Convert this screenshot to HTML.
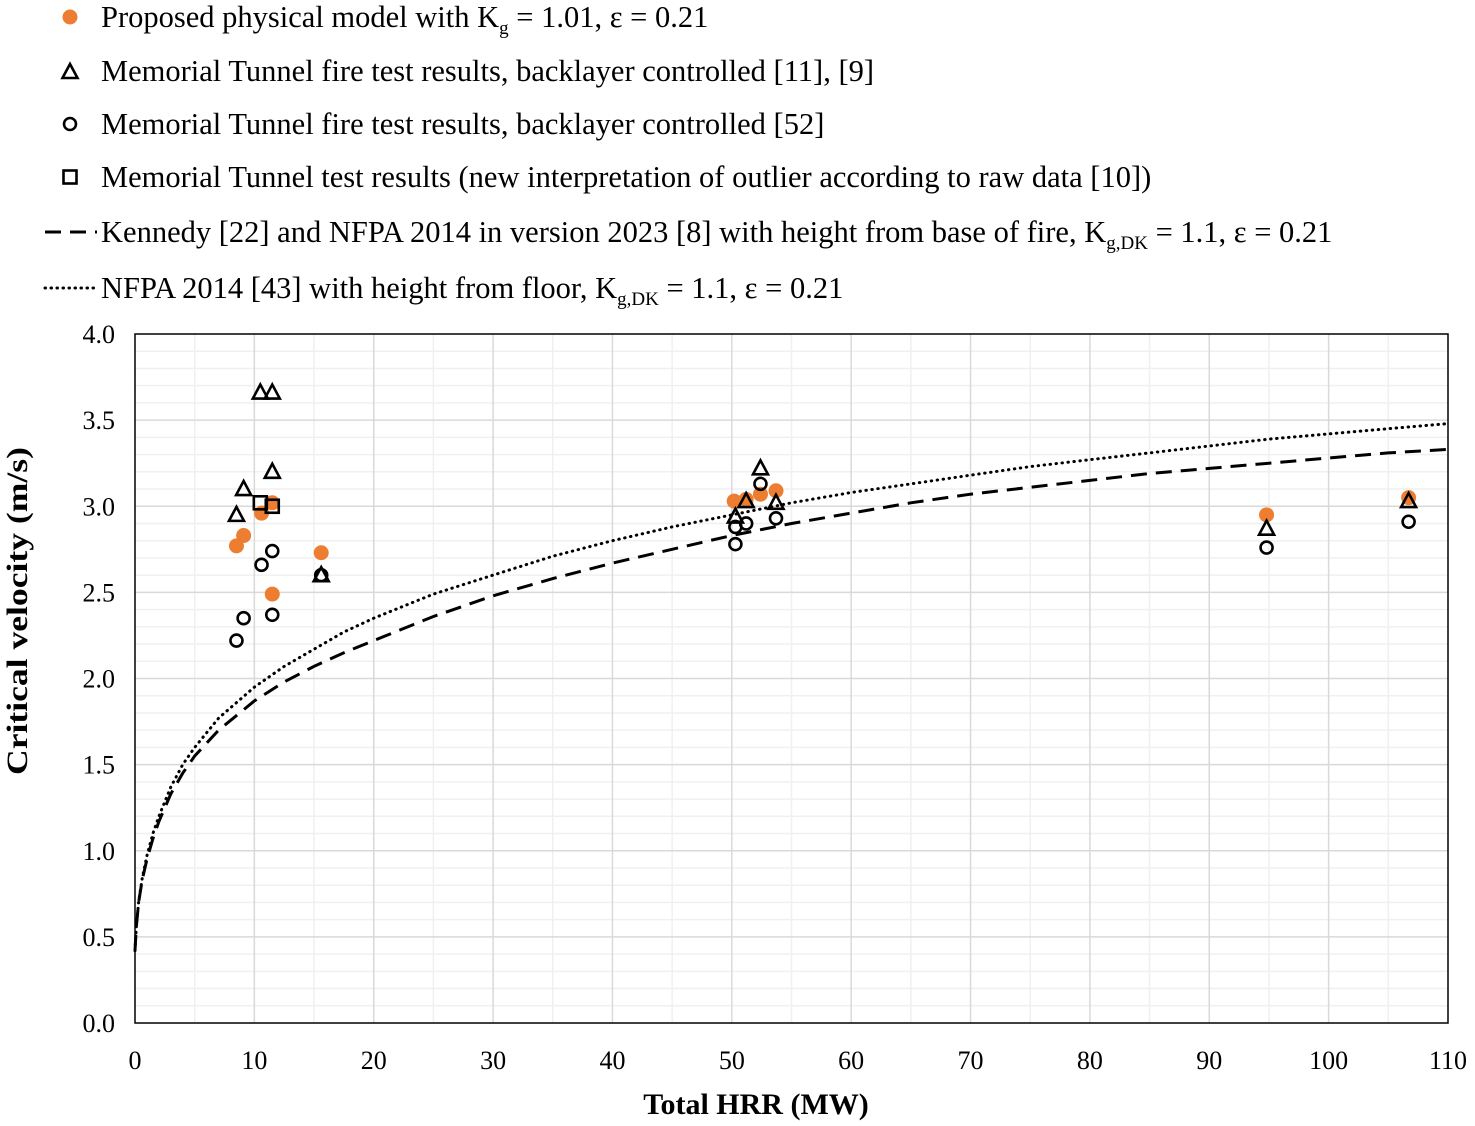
<!DOCTYPE html>
<html><head><meta charset="utf-8"><style>
body{margin:0;background:#fff}
svg{font-family:"Liberation Serif",serif;display:block}
</style></head><body>
<svg id="c" width="1475" height="1126"></svg>
<script>
const orangeX=[8.5,9.1,10.6,11.5,11.5,15.6,50.2,51.2,52.4,53.7,94.8,106.7];
const orangeY=[2.77,2.83,2.96,3.02,2.49,2.73,3.03,3.04,3.07,3.09,2.95,3.05];
const triX=[10.5,11.5,11.5,9.1,8.5,15.6,50.3,51.2,52.4,53.7,94.8,106.7];
const triY=[3.66,3.66,3.2,3.1,2.95,2.6,2.94,3.03,3.22,3.02,2.87,3.03];
const circX=[8.5,9.1,10.6,11.5,11.5,15.6,50.3,50.3,51.2,52.4,53.7,94.8,106.7];
const circY=[2.22,2.35,2.66,2.74,2.37,2.6,2.78,2.88,2.9,3.13,2.93,2.76,2.91];
const sqX=[10.5,11.5];
const sqY=[3.02,3.0];
const dashQ=[0,0.1,0.3,0.6,1,1.5,2,3,4,5,7,10,12.5,15,17.5,20,25,30,35,40,45,50,55,60,65,70,75,80,85,90,95,100,105,110];
const dashV=[0.42,0.55,0.7,0.83,0.95,1.07,1.17,1.33,1.45,1.55,1.7,1.87,1.98,2.07,2.15,2.22,2.36,2.48,2.58,2.67,2.75,2.83,2.9,2.96,3.02,3.07,3.11,3.15,3.19,3.22,3.25,3.28,3.31,3.33];
const dotQ=[0,0.1,0.3,0.6,1,1.5,2,3,4,5,7,10,12.5,15,17.5,20,25,30,35,40,45,50,55,60,65,70,75,80,85,90,95,100,105,110];
const dotV=[0.42,0.55,0.7,0.84,0.97,1.1,1.2,1.37,1.5,1.6,1.77,1.95,2.07,2.17,2.27,2.35,2.49,2.6,2.71,2.8,2.88,2.95,3.02,3.08,3.13,3.18,3.23,3.27,3.31,3.35,3.39,3.42,3.45,3.48];
const xTicks=[0,10,20,30,40,50,60,70,80,90,100,110];
const yTicks=[0,0.5,1,1.5,2,2.5,3,3.5,4];

const NS="http://www.w3.org/2000/svg",svg=document.getElementById('c');
const X0=135,X1=1448,Y0=1023,Y1=334;
const sx=v=>X0+(X1-X0)*v/110, sy=v=>Y0-(Y0-Y1)*v/4;
function mk(t,a,p){const e=document.createElementNS(NS,t);for(const k in a)e.setAttribute(k,a[k]);(p||svg).appendChild(e);return e;}
function tx(x,y,s,a,p){const e=mk('text',Object.assign({x,y},a),p);e.innerHTML=s;return e;}
const grid=mk('g',{});


for(let i=1;i<40;i++){if(i%5)mk('line',{x1:X0,x2:X1,y1:sy(i/10),y2:sy(i/10),stroke:'#f0f0f0','stroke-width':1.5},grid);}
for(let i=1;i<22;i++){if(i%2)mk('line',{x1:sx(i*5),x2:sx(i*5),y1:Y0,y2:Y1,stroke:'#f0f0f0','stroke-width':1.5},grid);}
for(let i=1;i<8;i++)mk('line',{x1:X0,x2:X1,y1:sy(i/2),y2:sy(i/2),stroke:'#d9d9d9','stroke-width':1.5},grid);
for(let i=1;i<11;i++)mk('line',{x1:sx(i*10),x2:sx(i*10),y1:Y0,y2:Y1,stroke:'#d9d9d9','stroke-width':1.5},grid);
const frame=mk('rect',{x:X0,y:Y1,width:X1-X0,height:Y0-Y1,fill:'none',stroke:'#000','stroke-width':1.5});


xTicks.forEach(v=>{const t=tx(sx(v),1069,v,{'font-size':26,'text-anchor':'middle'});

});
yTicks.forEach(v=>{const t=tx(115,sy(v)+9,v.toFixed(1),{'font-size':26,'text-anchor':'end'});

});
const xl=tx(756,1114,'Total HRR (MW)',{'font-size':30,'font-weight':'bold','text-anchor':'middle'});


const yl=tx(-164,0,'Critical velocity (m/s)',{'font-size':30,'font-weight':'bold',textLength:328,lengthAdjust:'spacingAndGlyphs',transform:'translate(27,611) rotate(-90)'});


function path(q,v){return q.map((a,i)=>(i?'L':'M')+sx(a).toFixed(1)+','+sy(v[i]).toFixed(1)).join('');}
const dl=mk('path',{d:path(dashQ,dashV),fill:'none',stroke:'#000','stroke-width':3,'stroke-dasharray':'16,9'});


const ol=mk('path',{d:path(dotQ,dotV),fill:'none',stroke:'#000','stroke-width':3,'stroke-dasharray':'0.5,5.5','stroke-linecap':'round'});


function tri(cx,cy,p){return mk('path',{d:`M${cx},${cy-8}L${cx+7.5},${cy+6}L${cx-7.5},${cy+6}Z`,fill:'none',stroke:'#000','stroke-width':2.6},p);}
function circ(cx,cy,p){return mk('circle',{cx,cy,r:6,fill:'none',stroke:'#000','stroke-width':2.6},p);}
function sq(cx,cy,p){return mk('rect',{x:cx-6.5,y:cy-6.5,width:13,height:13,fill:'none',stroke:'#000','stroke-width':2.6},p);}
function dot(cx,cy,p){return mk('circle',{cx,cy,r:7.5,fill:'#ed7d31'},p);}
orangeX.forEach((x,i)=>{const e=dot(sx(x),sy(orangeY[i]));

});
triX.forEach((x,i)=>{const e=tri(sx(x),sy(triY[i]));

});
circX.forEach((x,i)=>{const e=circ(sx(x),sy(circY[i]));

});
sqX.forEach((x,i)=>{const e=sq(sx(x),sy(sqY[i]));

});
const L=[
 [17,'dot','Proposed physical model with K<tspan font-size="19" dy="7">g</tspan><tspan dy="-7"> = 1.01, ε = 0.21</tspan>'],
 [71,'tri','Memorial Tunnel fire test results, backlayer controlled [11], [9]'],
 [124,'circ','Memorial Tunnel fire test results, backlayer controlled [52]'],
 [177,'sq','Memorial Tunnel test results (new interpretation of outlier according to raw data [10])'],
 [232,'dash','Kennedy [22] and NFPA 2014 in version 2023 [8] with height from base of fire, K<tspan font-size="19" dy="7">g,DK</tspan><tspan dy="-7"> = 1.1, ε = 0.21</tspan>'],
 [288,'dotl','NFPA 2014 [43] with height from floor, K<tspan font-size="19" dy="7">g,DK</tspan><tspan dy="-7"> = 1.1, ε = 0.21</tspan>']];
L.forEach(r=>{const g=mk('g',{});


const y=r[0];
if(r[1]=='dot')dot(70,y,g);else if(r[1]=='tri')tri(70,y+1,g);else if(r[1]=='circ')circ(70,y,g);else if(r[1]=='sq')sq(70,y,g);
else if(r[1]=='dash')mk('line',{x1:45,x2:97,y1:y,y2:y,stroke:'#000','stroke-width':3,'stroke-dasharray':'16,9'},g);
else mk('line',{x1:45,x2:97,y1:y,y2:y,stroke:'#000','stroke-width':3,'stroke-dasharray':'0.5,5.5','stroke-linecap':'round'},g);
tx(101,y+10,r[2],{'font-size':30.5},g);});
</script>
</body></html>
